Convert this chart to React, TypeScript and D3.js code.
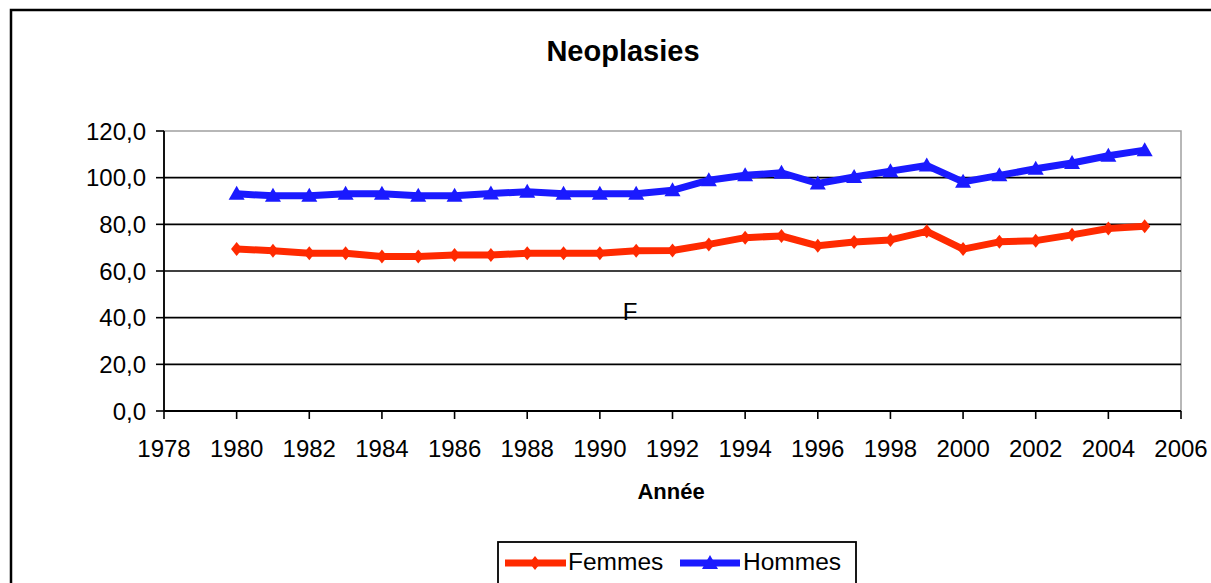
import React from "react";
import * as d3 from "d3";

const years = [1980,1981,1982,1983,1984,1985,1986,1987,1988,1989,1990,1991,1992,1993,1994,1995,1996,1997,1998,1999,2000,2001,2002,2003,2004,2005];
const femmes = [69.4,68.7,67.6,67.6,66.2,66.2,66.9,66.9,67.6,67.6,67.6,68.7,68.8,71.4,74.3,75.0,70.8,72.4,73.3,77.0,69.4,72.5,73.0,75.5,78.2,79.2];
const hommes = [93.1,92.2,92.2,93.1,93.1,92.2,92.2,93.2,94.0,93.1,93.1,93.1,94.6,98.9,101.0,102.1,97.5,100.3,102.8,105.2,98.2,101.0,103.8,106.3,109.4,111.8];
const yTicks = [0,20,40,60,80,100,120];
const xTicks = [1978,1980,1982,1984,1986,1988,1990,1992,1994,1996,1998,2000,2002,2004,2006];
const title = "Neoplasies";
const xTitle = "Année";
const seriesNames = ["Femmes", "Hommes"];

const RED = "#ff2a00";
const BLUE = "#1a1aff";
const FONT = "'Liberation Sans', Arial, sans-serif";

export default function App() {
  const left = 164, right = 1181, top = 131, bottom = 411;
  const x = d3.scaleLinear().domain([1978, 2006]).range([left, right]);
  const y = d3.scaleLinear().domain([0, 120]).range([bottom, top]);
  const line = d3.line<number>().x((_, i) => x(years[i])).y((d) => y(d));
  const fmt = (v: number) => v.toFixed(1).replace(".", ",");

  const diamond = (cx: number, cy: number, s: number) =>
    `M${cx},${cy - s}L${cx + s * 0.8},${cy}L${cx},${cy + s}L${cx - s * 0.8},${cy}Z`;
  const triangle = (cx: number, cy: number, s: number) =>
    `M${cx},${cy - s}L${cx + s},${cy + s * 0.75}L${cx - s},${cy + s * 0.75}Z`;

  return (
    <svg width={1211} height={583} style={{ position: "absolute", left: 0, top: 0, background: "#fff" }} fontFamily={FONT}>
      <rect x={0} y={0} width={1211} height={583} fill="#fff" />
      {/* outer frame */}
      <rect x={11} y={10} width={1240} height={640} fill="none" stroke="#000" strokeWidth={2.5} />
      <text x={623} y={61} textAnchor="middle" fontSize={29} fontWeight="bold" fill="#000">{title}</text>

      {/* plot border */}
      <rect x={left} y={top} width={right - left} height={bottom - top} fill="#fff" stroke="#a0a0a0" strokeWidth={1.5} />
      {/* gridlines */}
      {yTicks.filter((t) => t > 0 && t < 120).map((t) => (
        <line key={t} x1={left} x2={right} y1={y(t)} y2={y(t)} stroke="#000" strokeWidth={1.6} />
      ))}
      {/* y axis */}
      <line x1={left} x2={left} y1={top} y2={bottom} stroke="#000" strokeWidth={1.8} />
      {yTicks.map((t) => (
        <g key={t}>
          <line x1={left - 8} x2={left} y1={y(t)} y2={y(t)} stroke="#000" strokeWidth={1.6} />
          <text x={146} y={y(t) + 8.5} textAnchor="end" fontSize={24} fill="#000">{fmt(t)}</text>
        </g>
      ))}
      {/* x axis */}
      <line x1={left} x2={right} y1={bottom} y2={bottom} stroke="#000" strokeWidth={1.8} />
      {xTicks.map((t) => (
        <g key={t}>
          <line x1={x(t)} x2={x(t)} y1={bottom} y2={bottom + 8} stroke="#000" strokeWidth={1.6} />
          <text x={x(t)} y={457} textAnchor="middle" fontSize={24} fill="#000">{t}</text>
        </g>
      ))}
      <text x={671} y={499} textAnchor="middle" fontSize={22} fontWeight="bold" fill="#000">{xTitle}</text>

      <text x={630} y={320} textAnchor="middle" fontSize={24} fill="#000">F</text>

      {/* series */}
      <path d={line(femmes) || ""} fill="none" stroke={RED} strokeWidth={7} strokeLinejoin="round" />
      {femmes.map((v, i) => (
        <path key={i} d={diamond(x(years[i]), y(v), 7)} fill={RED} />
      ))}
      <path d={line(hommes) || ""} fill="none" stroke={BLUE} strokeWidth={7} strokeLinejoin="round" />
      {hommes.map((v, i) => (
        <path key={i} d={triangle(x(years[i]), y(v), 8)} fill={BLUE} />
      ))}

      {/* legend */}
      <rect x={498} y={542} width={358} height={60} fill="#fff" stroke="#000" strokeWidth={1.8} />
      <line x1={505} x2={566} y1={563} y2={563} stroke={RED} strokeWidth={7} />
      <path d={diamond(535, 563, 7)} fill={RED} />
      <text x={568} y={570} fontSize={24.5} fill="#000">{seriesNames[0]}</text>
      <line x1={680} x2={740} y1={563} y2={563} stroke={BLUE} strokeWidth={7} />
      <path d={triangle(710, 563, 8)} fill={BLUE} />
      <text x={743} y={570} fontSize={24.5} fill="#000">{seriesNames[1]}</text>
    </svg>
  );
}
